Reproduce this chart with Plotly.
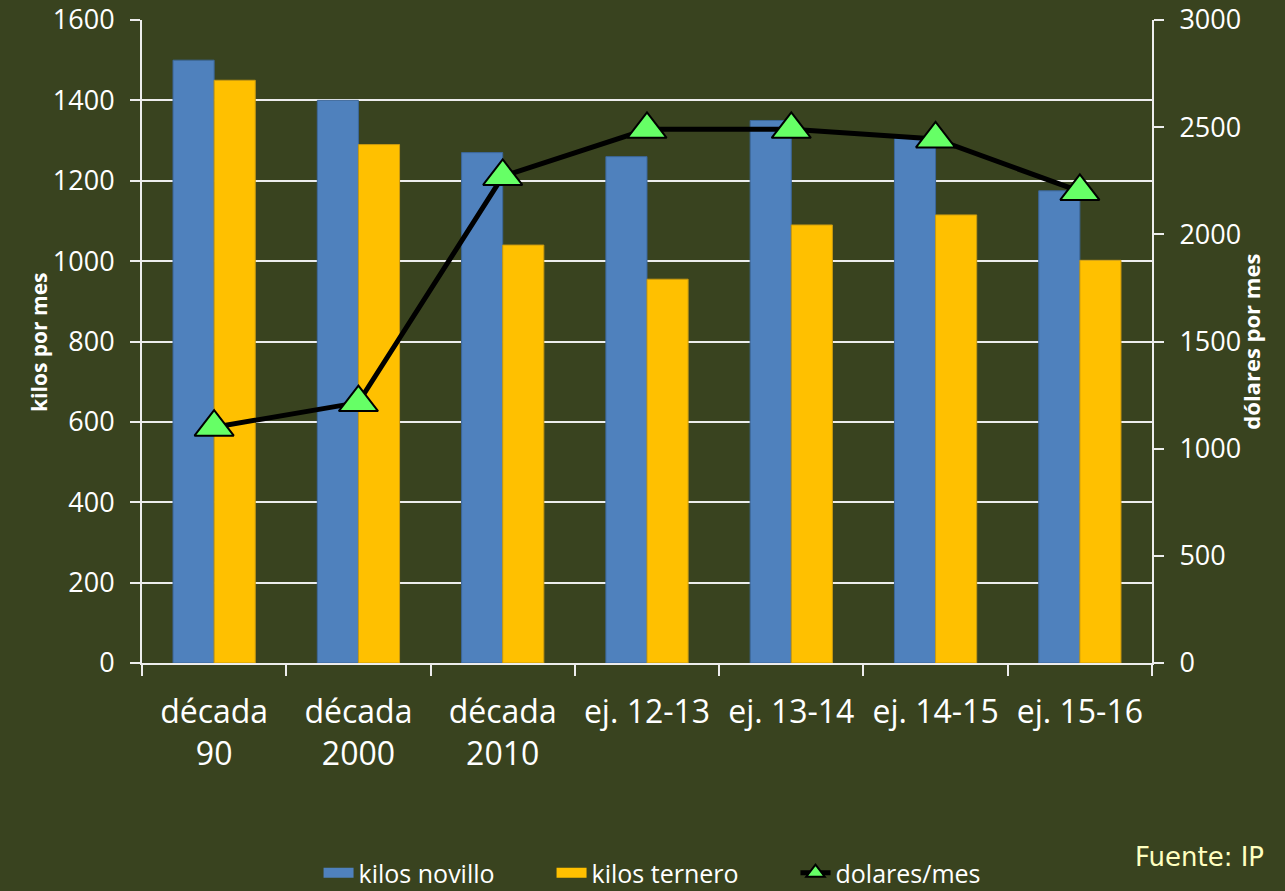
import plotly.graph_objects as go

categories = ["década<br>90", "década<br>2000", "década<br>2010", "ej. 12-13", "ej. 13-14", "ej. 14-15", "ej. 15-16"]
kilos_novillo = [1500, 1400, 1270, 1260, 1350, 1310, 1175]
kilos_ternero = [1450, 1290, 1040, 955, 1090, 1115, 1002]
dolares_mes = [1100, 1215, 2270, 2490, 2490, 2445, 2200]

left_ticks = [0, 200, 400, 600, 800, 1000, 1200, 1400, 1600]
right_ticks = [0, 500, 1000, 1500, 2000, 2500, 3000]

BG = "#39431F"
FONT = "Open Sans, Liberation Sans, sans-serif"
AX = "#EDEDED"
BLUE = "#4F81BD"
YELLOW = "#FFC000"
PAD = "\u00a0" * 8

fig = go.Figure()
fig.add_trace(go.Bar(x=categories, y=kilos_novillo, name="kilos novillo", showlegend=False,
                     legendgroup="nov",
                     marker=dict(color=BLUE, line=dict(color="#3C679A", width=1))))
fig.add_trace(go.Bar(x=categories, y=kilos_ternero, name="kilos ternero", showlegend=False,
                     legendgroup="ter",
                     marker=dict(color=YELLOW, line=dict(color="#C99A10", width=1))))
# legend keys drawn as wide rectangles
fig.add_trace(go.Scatter(x=[None], y=[None], name="kilos novillo" + PAD, mode="lines",
                         legendgroup="nov", line=dict(color=BLUE, width=16)))
fig.add_trace(go.Scatter(x=[None], y=[None], name="kilos ternero" + PAD, mode="lines",
                         legendgroup="ter", line=dict(color=YELLOW, width=16)))
fig.add_trace(go.Scatter(x=categories, y=dolares_mes, name="dolares/mes", yaxis="y2",
                         mode="lines+markers",
                         line=dict(color="black", width=5),
                         marker=dict(symbol="triangle-up", size=34, color="#66FF66",
                                     line=dict(color="black", width=2))))

fig.update_layout(
    width=1285, height=891,
    paper_bgcolor=BG, plot_bgcolor=BG,
    margin=dict(l=142, r=133, t=20, b=228, autoexpand=False),
    barmode="group", bargap=0.43, bargroupgap=0,
    font=dict(family=FONT, color="white"),
    showlegend=True,
    legend=dict(orientation="h", x=0.505, xanchor="center", y=-0.3266, yanchor="middle",
                font=dict(size=25, color="white"), bgcolor="rgba(0,0,0,0)",
                itemwidth=30, tracegroupgap=0),
    xaxis=dict(type="category", tickson="boundaries", ticks="outside", ticklen=11,
               tickcolor=AX, tickwidth=2, showline=True, linecolor=AX, linewidth=2,
               showgrid=False, tickfont=dict(size=32, color="white"),
               ticklabelstandoff=20, automargin=False),
    yaxis=dict(range=[0, 1600], tickvals=left_ticks, ticks="outside", ticklen=10,
               tickcolor=AX, tickwidth=2, showline=True, linecolor=AX, linewidth=2,
               showgrid=True, gridcolor=AX, gridwidth=2, zeroline=False,
               tickfont=dict(size=27, color="white"), ticklabelstandoff=10,
               automargin=False),
    yaxis2=dict(range=[0, 3000], tickvals=right_ticks, overlaying="y", side="right",
                ticks="outside", ticklen=10, tickcolor=AX, tickwidth=2, showline=True,
                linecolor=AX, linewidth=2, showgrid=False, zeroline=False,
                tickfont=dict(size=27, color="white"), ticklabelstandoff=10,
                automargin=False),
    annotations=[
        dict(text="<b>kilos por mes</b>", xref="paper", yref="paper", x=-0.118, y=0.499,
             textangle=-90, showarrow=False, font=dict(size=21, color="white")),
        dict(text="<b>dólares por mes</b>", xref="paper", yref="paper", x=1.114, y=0.500,
             textangle=-90, showarrow=False, font=dict(size=22, color="white")),
        dict(text="Fuente: IP", xref="paper", yref="paper", x=0.981, y=-0.302,
             xanchor="left", yanchor="middle", showarrow=False,
             font=dict(size=26, color="#FFFFC0", family="DejaVu Sans")),
    ],
)

fig.write_html("out.html", config={"displayModeBar": False},
               post_script="document.body.style.margin='0';document.body.style.overflow='hidden';")
